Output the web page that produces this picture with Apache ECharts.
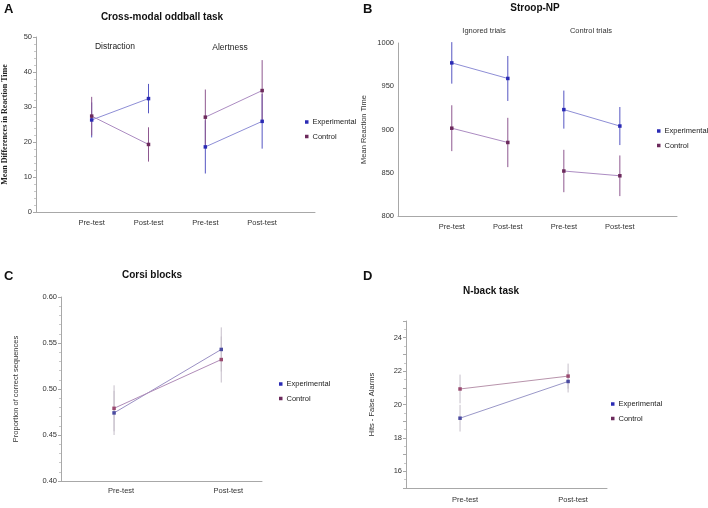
<!DOCTYPE html>
<html><head><meta charset="utf-8">
<script src="https://cdn.jsdelivr.net/npm/echarts@6/dist/echarts.min.js"></script>
<style>html,body{margin:0;padding:0;background:#fff}#c{width:708px;height:508px}</style>
</head><body><div id="c"></div>
<script>
// ---- Data ----
const groupNames = ['Experimental', 'Control'];

// A: Cross-modal oddball task
const aTicks = ['Pre-test', 'Post-test', 'Pre-test', 'Post-test'];
const aSubLabels = ['Distraction', 'Alertness'];
const aExpMean = [26.3, 32.4, 18.6, 25.9];
const aExpErr = [5.0, 4.2, 7.6, 7.8];
const aCtrlMean = [27.4, 19.3, 27.1, 34.7];
const aCtrlErr = [5.5, 4.9, 7.9, 8.7];

// B: Stroop-NP
const bTicks = ['Pre-test', 'Post-test', 'Pre-test', 'Post-test'];
const bSubLabels = ['Ignored trials', 'Control trials'];
const bExpMean = [977, 959, 923, 904];
const bExpErr = [24, 26, 22, 22];
const bCtrlMean = [901.5, 885, 852, 846.5];
const bCtrlErr = [26.5, 28.5, 24.5, 23.5];

// C: Corsi blocks
const cTicks = ['Pre-test', 'Post-test'];
const cExpMean = [0.474, 0.543];
const cExpErr = [0.024, 0.024];
const cCtrlMean = [0.479, 0.532];
const cCtrlErr = [0.025, 0.025];

// D: N-back task
const dTicks = ['Pre-test', 'Post-test'];
const dExpMean = [19.18, 21.38];
const dExpErr = [0.80, 0.66];
const dCtrlMean = [20.93, 21.70];
const dCtrlErr = [0.86, 0.75];

// ---- Chart ----
const chart = echarts.init(document.getElementById('c'), null, {renderer: 'canvas'});
const FONT = 'Liberation Sans, Arial, sans-serif';
const axisGrey = '#a8a8a8';

const series = [];
function errSeries(idx, means, errs, color) {
  series.push({
    type: 'custom', xAxisIndex: idx, yAxisIndex: idx, z: 2,
    name: 'err' + idx + color,
    data: means.map((m, i) => [i, m - errs[i], m + errs[i]]),
    encode: {x: 0, y: [1, 2]},
    renderItem: function (params, api) {
      const p1 = api.coord([api.value(0), api.value(1)]);
      const p2 = api.coord([api.value(0), api.value(2)]);
      return {type: 'line', shape: {x1: p1[0], y1: p1[1], x2: p2[0], y2: p2[1]},
        style: {stroke: color, lineWidth: 1}};
    }
  });
}
function lineSeries(idx, name, means, segs, lineColor, markColor) {
  segs.forEach(seg => {
    series.push({
      type: 'line', name: name, xAxisIndex: idx, yAxisIndex: idx, z: 3,
      data: seg.map(i => [i, means[i]]),
      symbol: 'rect', symbolSize: 3.5, showSymbol: true,
      itemStyle: {color: markColor},
      lineStyle: {color: lineColor, width: 1},
      emphasis: {disabled: true}, animation: false
    });
  });
}

// colours
const expMark = '#2a2ab4', ctrlMark = '#6c2a5c';
const expLine = '#8e8ed6', ctrlLine = '#ac8cc2';
const expErrC = '#5656c2', ctrlErrC = '#8e5890';
const greyErr = '#c6bfca';

// A
errSeries(0, aExpMean, aExpErr, expErrC);
errSeries(0, aCtrlMean, aCtrlErr, ctrlErrC);
lineSeries(0, groupNames[0], aExpMean, [[0, 1], [2, 3]], expLine, expMark);
lineSeries(0, groupNames[1], aCtrlMean, [[0, 1], [2, 3]], ctrlLine, ctrlMark);
// B
errSeries(1, bExpMean, bExpErr, expErrC);
errSeries(1, bCtrlMean, bCtrlErr, ctrlErrC);
lineSeries(1, groupNames[0], bExpMean, [[0, 1], [2, 3]], expLine, expMark);
lineSeries(1, groupNames[1], bCtrlMean, [[0, 1], [2, 3]], ctrlLine, ctrlMark);
// C
errSeries(2, cExpMean, cExpErr, greyErr);
errSeries(2, cCtrlMean, cCtrlErr, greyErr);
lineSeries(2, groupNames[0], cExpMean, [[0, 1]], '#9a90c4', '#4a4aa0');
lineSeries(2, groupNames[1], cCtrlMean, [[0, 1]], '#b08cb8', '#9a4a70');
// D
errSeries(3, dExpMean, dExpErr, greyErr);
errSeries(3, dCtrlMean, dCtrlErr, greyErr);
lineSeries(3, groupNames[0], dExpMean, [[0, 1]], '#9a98c8', '#4a4aa0');
lineSeries(3, groupNames[1], dCtrlMean, [[0, 1]], '#b894ac', '#9a4a70');

const grids = [
  {left: 35, top: 37, width: 280, height: 175},
  {left: 398, top: 43, width: 279, height: 173},
  {left: 61, top: 297, width: 201, height: 184},
  {left: 406, top: 321, width: 201, height: 167}
];

function xAx(idx, ticks, min, max, margin, pad) {
  return {
    type: 'value', gridIndex: idx, min: min, max: max,
    splitLine: {show: false},
    axisLine: {show: true, onZero: false, lineStyle: {color: axisGrey, width: 1}},
    axisTick: {show: false},
    axisLabel: {
      customValues: ticks.map((t, i) => i),
      formatter: v => ticks[Math.round(v)] || '',
      fontSize: 7.5, color: '#333', fontFamily: FONT, margin: margin,
      padding: pad
    }
  };
}
function yAx(idx, opt) {
  return Object.assign({
    type: 'value', gridIndex: idx,
    splitLine: {show: false},
    axisLine: {show: true, onZero: false, lineStyle: {color: axisGrey, width: 1}},
    axisTick: {show: true, length: 3, lineStyle: {color: axisGrey}},
    minorTick: {show: true, splitNumber: 5, length: 2, lineStyle: {color: '#c8c8c8'}},
    nameLocation: 'middle', nameRotate: 90
  }, opt);
}

const option = {
  animation: false,
  backgroundColor: '#fff',
  grid: grids,
  xAxis: [
    xAx(0, aTicks, -0.98, 3.93, 7, 0),
    xAx(1, bTicks, -0.96, 4.02, 7, 0),
    xAx(2, cTicks, -0.495, 1.38, 6, [0, 0, 0, 14]),
    xAx(3, dTicks, -0.5, 1.36, 8, [0, 0, 0, 10])
  ],
  yAxis: [
    yAx(0, {min: 0, max: 50, interval: 10,
      name: 'Mean Differences in Reaction Time', nameGap: 27,
      nameTextStyle: {fontFamily: 'Liberation Serif, Times New Roman, serif', fontWeight: 'bold', fontSize: 8, color: '#222'},
      axisLabel: {fontSize: 7.5, color: '#333', fontFamily: FONT, margin: 4}}),
    yAx(1, {min: 800, max: 1000, interval: 50,
      name: 'Mean Reaction Time', nameGap: 30,
      nameTextStyle: {fontFamily: FONT, fontSize: 7.5, color: '#333'},
      axisTick: {show: false}, minorTick: {show: false},
      axisLabel: {fontSize: 7.5, color: '#333', fontFamily: FONT, margin: 4, formatter: v => String(v)}}),
    yAx(2, {min: 0.40, max: 0.60, interval: 0.05,
      name: 'Proportion of correct sequences', nameGap: 41,
      nameTextStyle: {fontFamily: FONT, fontSize: 7.5, color: '#333'},
      axisLabel: {fontSize: 7.5, color: '#333', fontFamily: FONT, margin: 4, formatter: v => v.toFixed(2)}}),
    yAx(3, {min: 15, max: 25, interval: 1,
      name: 'Hits - False Alarms', nameGap: 30,
      nameTextStyle: {fontFamily: FONT, fontSize: 7.5, color: '#333'},
      minorTick: {show: true, splitNumber: 2, length: 2, lineStyle: {color: '#c8c8c8'}},
      axisLabel: {fontSize: 7.5, color: '#333', fontFamily: FONT, margin: 4,
        formatter: v => (v % 2 === 0 && v > 15 && v < 25) ? String(v) : ''}})
  ],
  legend: [
    {left: 300, top: 113}, {left: 652, top: 122}, {left: 274, top: 375}, {left: 606, top: 395}
  ].map(p => ({
    left: p.left, top: p.top, orient: 'vertical', data: groupNames,
    icon: 'rect', itemWidth: 3.5, itemHeight: 3.5, itemGap: 6.5,
    textStyle: {fontSize: 7.5, color: '#222', fontFamily: FONT, padding: [0, 0, 0, -1]},
    selectedMode: false
  })),
  graphic: [
    // panel letters
    {type: 'text', left: 4, top: 3, style: {text: 'A', font: 'bold 13px ' + FONT, fill: '#111'}},
    {type: 'text', left: 363, top: 3, style: {text: 'B', font: 'bold 13px ' + FONT, fill: '#111'}},
    {type: 'text', left: 4, top: 270, style: {text: 'C', font: 'bold 13px ' + FONT, fill: '#111'}},
    {type: 'text', left: 363, top: 270, style: {text: 'D', font: 'bold 13px ' + FONT, fill: '#111'}},
    // titles
    {type: 'text', x: 162, y: 17, style: {text: 'Cross-modal oddball task', font: 'bold 10px ' + FONT, fill: '#111', align: 'center', verticalAlign: 'middle'}},
    {type: 'text', x: 535, y: 8, style: {text: 'Stroop-NP', font: 'bold 10px ' + FONT, fill: '#111', align: 'center', verticalAlign: 'middle'}},
    {type: 'text', x: 152, y: 275, style: {text: 'Corsi blocks', font: 'bold 10px ' + FONT, fill: '#111', align: 'center', verticalAlign: 'middle'}},
    {type: 'text', x: 491, y: 291, style: {text: 'N-back task', font: 'bold 10px ' + FONT, fill: '#111', align: 'center', verticalAlign: 'middle'}},
    // sub labels
    {type: 'text', x: 115, y: 47, style: {text: aSubLabels[0], font: '8.5px ' + FONT, fill: '#222', align: 'center', verticalAlign: 'middle'}},
    {type: 'text', x: 230, y: 48, style: {text: aSubLabels[1], font: '8.5px ' + FONT, fill: '#222', align: 'center', verticalAlign: 'middle'}},
    {type: 'text', x: 484, y: 31, style: {text: bSubLabels[0], font: '7.5px ' + FONT, fill: '#333', align: 'center', verticalAlign: 'middle'}},
    {type: 'text', x: 591, y: 31, style: {text: bSubLabels[1], font: '7.5px ' + FONT, fill: '#333', align: 'center', verticalAlign: 'middle'}}
  ],
  series: series
};
chart.setOption(option);
</script>
</body></html>
